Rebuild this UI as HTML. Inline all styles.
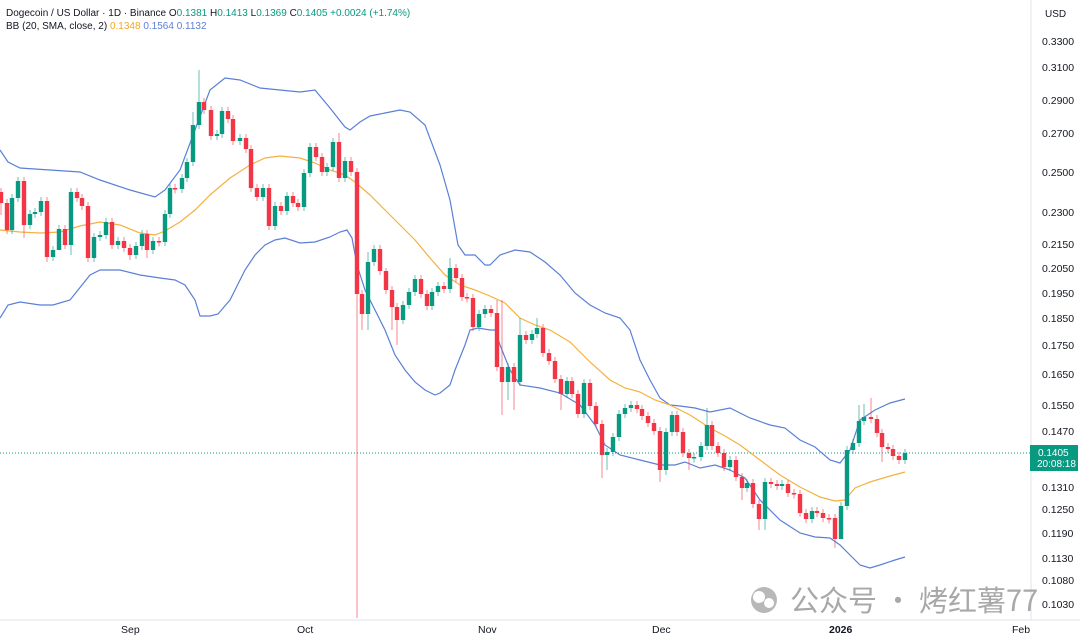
<!DOCTYPE html>
<html><head><meta charset="utf-8"><style>
html,body{margin:0;padding:0;background:#fff;width:1080px;height:642px;overflow:hidden;font-family:"Liberation Sans","Noto Sans CJK SC",sans-serif}
</style></head><body>
<svg id="c" width="1080" height="642" xmlns="http://www.w3.org/2000/svg" style="position:absolute;left:0;top:0">
<rect width="1080" height="642" fill="#fff"/>
<line x1="1031" y1="0" x2="1031" y2="620" stroke="#e0e3eb"/>
<line x1="0" y1="620" x2="1080" y2="620" stroke="#e0e3eb"/>
<g id="bands" fill="none" stroke-width="1.2"></g>
<g id="candles"></g>
<line x1="0" y1="453" x2="1030" y2="453" stroke="#089981" stroke-dasharray="1,2" stroke-width="1"/>
<g font-size="10.5" fill="#131722" id="ax"></g>
<rect x="1030" y="445" width="48" height="26" fill="#089981"/>
<text x="1038" y="456" font-size="10" fill="#fff">0.1405</text>
<text x="1037" y="467" font-size="10" fill="#fff">20:08:18</text>
<text x="1045" y="17" font-size="10" fill="#131722">USD</text>
<g font-size="10.5" fill="#131722">
<text x="121" y="633">Sep</text><text x="297" y="633">Oct</text><text x="478" y="633">Nov</text>
<text x="652" y="633">Dec</text><text x="829" y="633" font-weight="bold">2026</text><text x="1012" y="633">Feb</text>
</g>
<text x="6" y="16" font-size="10" fill="#131722">Dogecoin / US Dollar · 1D · Binance <tspan>O</tspan><tspan fill="#089981">0.1381</tspan>  <tspan>H</tspan><tspan fill="#089981">0.1413</tspan>  <tspan>L</tspan><tspan fill="#089981">0.1369</tspan>  <tspan>C</tspan><tspan fill="#089981">0.1405  +0.0024 (+1.74%)</tspan></text>
<text x="6" y="29" font-size="10" fill="#131722">BB (20, SMA, close, 2) <tspan fill="#f5a623">0.1348</tspan>  <tspan fill="#5b7fd8">0.1564</tspan>  <tspan fill="#5b7fd8">0.1132</tspan></text>
<circle cx="764" cy="600" r="13" fill="#b8b8b8"/>
<circle cx="759" cy="597" r="6" fill="#fff"/><circle cx="769" cy="603" r="5" fill="#fff"/>
<text x="790" y="611" font-size="29" fill="#a8a8a8" font-family="'Noto Sans CJK SC',sans-serif">公众号 · 烤红薯77</text>
</svg>
<script>
var ns="http://www.w3.org/2000/svg",svg=document.getElementById('c');
function el(p,t,a,txt){var e=document.createElementNS(ns,t);for(var k in a)e.setAttribute(k,a[k]);if(txt)e.textContent=txt;p.appendChild(e);return e;}
var ax=document.getElementById('ax');
[["0.3300",41],["0.3100",67],["0.2900",100],["0.2700",133],["0.2500",172],["0.2300",212],["0.2150",244],["0.2050",268],["0.1950",293],["0.1850",318],["0.1750",345],["0.1650",374],["0.1550",405],["0.1470",431],["0.1310",487],["0.1250",509],["0.1190",533],["0.1130",558],["0.1080",580],["0.1030",604]].forEach(function(t){el(ax,'text',{x:1042,y:t[1]+4},t[0]);});
var b=document.getElementById('bands');
function pl(pts,col){el(b,'polyline',{points:pts.map(function(p){return p.join(',')}).join(' '),stroke:col});}
pl([[0,150],[8,162],[20,168],[50,170],[80,172],[100,180],[130,190],[155,197],[165,190],[180,170],[195,130],[210,90],[225,78],[240,80],[260,88],[280,90],[300,92],[315,90],[330,108],[345,127],[350,130],[360,122],[370,116],[385,113],[400,110],[410,112],[425,125],[440,165],[450,200],[458,245],[465,255],[475,255],[485,265],[490,265],[500,255],[515,250],[530,252],[545,262],[560,275],[575,293],[590,305],[605,313],[620,318],[630,330],[640,360],[650,380],[660,398],[670,405],[680,406],[695,408],[710,412],[730,408],[750,418],[770,425],[785,428],[800,440],[815,447],[830,460],[840,463],[850,450],[860,420],[875,410],[890,403],[905,399]],'#5b7fd8');
pl([[0,318],[8,305],[20,302],[40,305],[53,305],[70,300],[90,275],[100,270],[120,270],[140,275],[160,278],[175,280],[185,285],[195,300],[200,316],[210,316],[218,314],[230,300],[245,270],[255,255],[265,245],[275,240],[285,238],[300,243],[315,242],[330,237],[340,232],[347,230],[352,238],[357,265],[365,290],[375,310],[385,330],[395,355],[405,370],[415,382],[425,390],[435,395],[440,393],[450,385],[455,370],[465,345],[470,330],[478,328],[490,330],[495,330],[500,345],[510,370],[520,385],[540,388],[560,393],[580,405],[595,425],[605,445],[620,455],[640,460],[660,465],[675,465],[685,462],[700,468],[715,465],[730,470],[745,478],[760,500],[780,520],[800,533],[815,537],[830,538],[840,545],[850,555],[860,565],[870,568],[880,565],[895,560],[905,557]],'#5b7fd8');
pl([[0,230],[20,232],[40,233],[60,232],[80,226],[100,222],[120,225],[140,233],[155,235],[165,231],[180,222],[195,210],[210,195],[230,178],[250,165],[265,158],[280,156],[300,158],[315,163],[330,170],[345,175],[355,182],[370,195],[385,210],[400,225],[415,240],[430,258],[445,275],[460,285],[475,290],[490,296],[505,303],[520,318],[535,325],[550,330],[570,342],[590,362],[610,380],[625,388],[640,392],[655,400],[670,405],[690,415],[710,428],[725,436],[740,445],[760,460],[780,475],[800,487],[820,497],[835,501],[845,500],[855,488],[870,482],[890,476],[905,472]],'#f5b041');
var d=[[1,203],[7,230],[12,198],[18,181],[24,225],[30,214],[35,212],[41,201],[47,257],[53,250],[59,229],[65,245],[71,192],[77,198],[82,206],[88,258],[94,237],[100,235],[106,222],[112,245],[118,241],[124,248],[130,255],[136,246],[142,234],[147,250],[153,241],[159,242],[165,214],[170,188],[175,189],[182,178],[187,162],[193,125],[199,102],[204,110],[211,136],[217,134],[222,111],[228,119],[233,141],[240,138],[246,149],[251,188],[257,197],[263,188],[269,226],[275,206],[281,211],[287,196],[293,203],[298,207],[304,173],[310,147],[316,157],[322,172],[327,167],[333,142],[339,178],[345,161],[351,172],[357,294],[362,314],[368,262],[374,249],[380,271],[386,290],[392,307],[397,320],[403,305],[409,292],[415,279],[421,294],[427,306],[432,292],[438,286],[444,289],[450,268],[456,278],[462,297],[467,298],[473,327],[479,314],[485,309],[491,313],[497,367],[502,382],[508,367],[514,382],[520,335],[526,340],[532,334],[537,328],[543,353],[549,361],[555,379],[561,394],[567,381],[572,394],[578,414],[584,383],[590,406],[596,424],[602,455],[607,452],[613,437],[619,414],[625,408],[631,405],[637,409],[642,416],[648,423],[654,431],[660,470],[666,432],[672,415],[677,432],[683,453],[689,458],[694,457],[701,446],[707,425],[712,446],[718,453],[724,467],[730,460],[736,477],[742,488],[747,483],[753,504],[759,519],[765,482],[771,484],[777,486],[782,484],[788,493],[794,494],[800,513],[806,519],[812,511],[817,513],[823,518],[829,518],[835,539],[841,506],[847,450],[853,443],[859,421],[864,417],[871,419],[877,433],[882,447],[888,449],[893,456],[899,460],[905,453]];
var hi={199:70,193:112,204:98,339:133,357:168,386:268,368:252,450:258,497:300,502:300,520:318,537:318,661:405,707:408,859:405,871:398,864:404,849:445};
var lo={1:215,24:238,47:262,59:240,71:255,88:262,130:260,147:258,357:618,362:330,368:330,392:330,397:345,502:415,508:400,514:410,561:410,602:478,607:470,660:482,666:475,689:470,742:500,759:530,765:530,835:548,841:510,882:462};
var g=document.getElementById('candles'),prev=192;
d.forEach(function(c){var x=c[0],o=prev,cl=c[1];prev=cl;var up=cl<o;var col=up?'#089981':'#f23645';
var top=Math.min(o,cl),bot=Math.max(o,cl);if(bot-top<1.5){bot=top+1.5;}
var h=hi[x]!==undefined?hi[x]:top-4,l=lo[x]!==undefined?lo[x]:bot+4;
el(g,'line',{x1:x,x2:x,y1:h,y2:l,stroke:col,'stroke-opacity':0.6,'stroke-width':1});
el(g,'rect',{x:x-2.2,y:top,width:4.4,height:bot-top,fill:col});});
</script>
</body></html>
